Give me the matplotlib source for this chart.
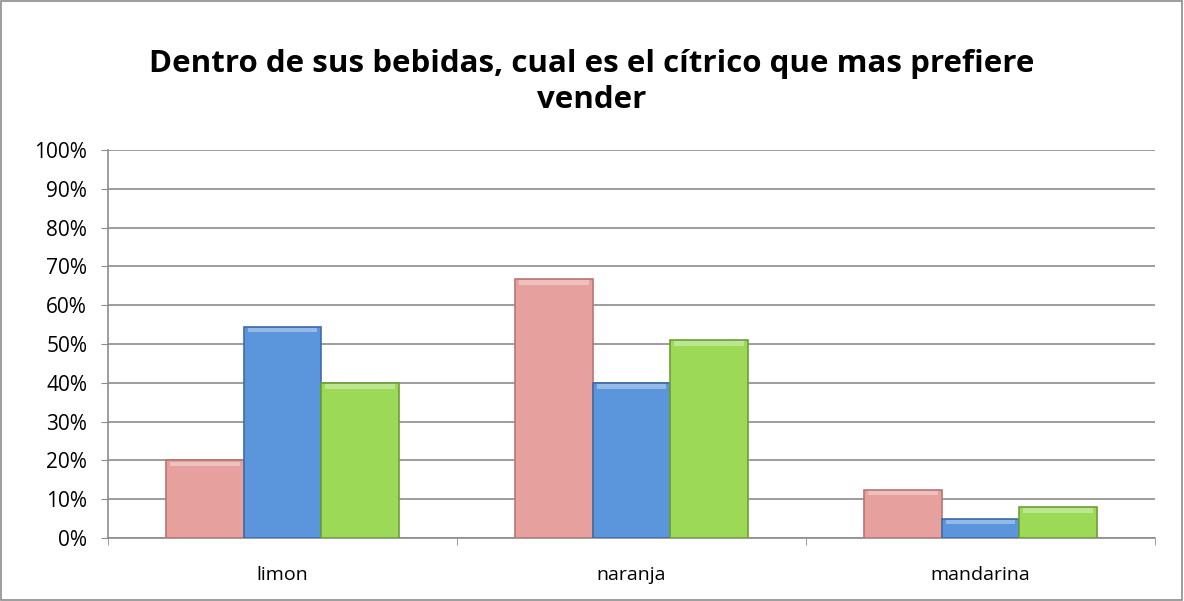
import matplotlib
matplotlib.use('Agg')
import matplotlib.pyplot as plt
import matplotlib.ticker as mticker
import numpy as np

CATEGORIES = ['limon', 'naranja', 'mandarina']
SERIES_A = [20.0, 66.7, 12.5]
SERIES_B = [54.5, 40.0, 5.0]
SERIES_C = [40.0, 51.0, 8.0]
TITLE = 'Dentro de sus bebidas, cual es el cítrico que mas prefiere\nvender'

COLORS = ['#E6A09E', '#5B96DC', '#9BD956']
EDGES = ['#B87572', '#3E6DA6', '#6F9E38']

plt.rcParams['font.family'] = ['Open Sans', 'DejaVu Sans']

fig = plt.figure(figsize=(11.84, 6.01), dpi=100)
ax = fig.add_axes([108 / 1184, 1 - 538 / 601, 1047 / 1184, 388 / 601])

x = np.arange(len(CATEGORIES))
width = 0.222
for i, (vals, c, e) in enumerate(zip([SERIES_A, SERIES_B, SERIES_C], COLORS, EDGES)):
    ax.bar(x + (i - 1) * width, vals, width, color=c, edgecolor=e,
           linewidth=1.2, zorder=3)
    # soft highlight on top to hint at the bevel
    ax.bar(x + (i - 1) * width, [min(v, 1.2) for v in vals], width * 0.9,
           bottom=[v - min(v, 1.2) - 0.3 for v in vals],
           color='white', alpha=0.35, linewidth=0, zorder=4)

ax.set_xlim(-0.5, len(CATEGORIES) - 0.5)
ax.set_ylim(0, 100)
ax.yaxis.set_major_locator(mticker.MultipleLocator(10))
ax.yaxis.set_major_formatter(mticker.FormatStrFormatter('%d%%'))
ax.grid(True, axis='y', color='#8c8c8c', linewidth=1.2, zorder=0)
ax.set_axisbelow(True)

ax.set_xticks(x)
ax.set_xticklabels(CATEGORIES)
ax.set_xticks(np.arange(-0.5, len(CATEGORIES)), minor=True)
ax.tick_params(axis='x', which='major', length=0, pad=20, labelsize=14)
ax.tick_params(axis='x', which='minor', length=5, color='#8c8c8c')
ax.tick_params(axis='y', length=5, color='#8c8c8c', labelsize=15, pad=10)

for s in ['top', 'right']:
    ax.spines[s].set_visible(False)
for s in ['left', 'bottom']:
    ax.spines[s].set_color('#8c8c8c')
    ax.spines[s].set_linewidth(1.2)

fig.text(0.5, 1 - 82 / 601, TITLE, ha='center', va='center',
         fontsize=22.5, fontweight='bold', linespacing=1.25)

fig.patches.append(plt.Rectangle((0.001, 0.001), 0.997, 0.997, transform=fig.transFigure,
                                 fill=False, edgecolor='#8c8c8c', linewidth=1.2))

fig.savefig('out.png', dpi=100)
